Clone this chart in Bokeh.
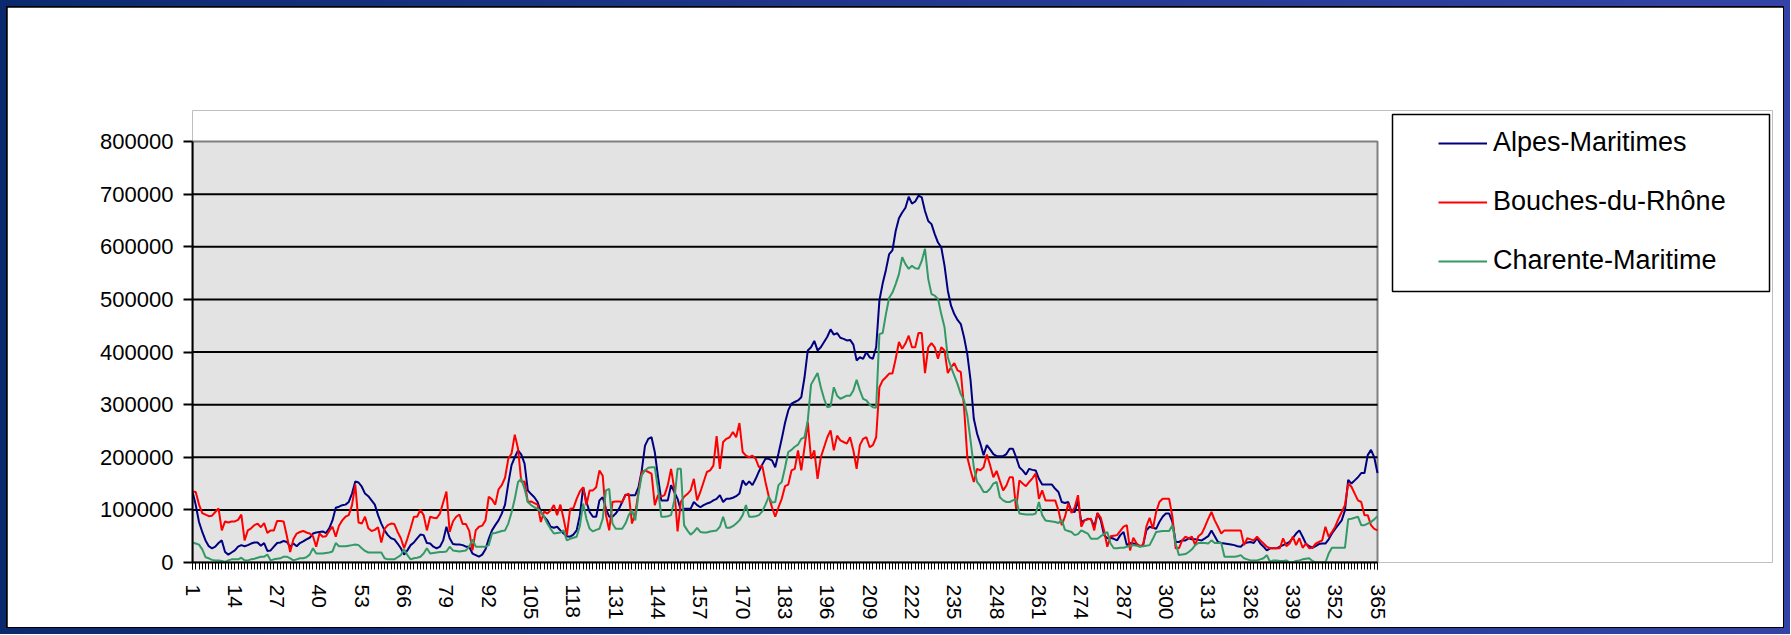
import numpy as np
from bokeh.plotting import figure
from bokeh.models import (Range1d, FixedTicker, NumeralTickFormatter, Legend, LegendItem,
                          ColumnDataSource)
from bokeh.layouts import column
from bokeh.embed import file_html
from bokeh.resources import INLINE

# ---------------- data (values in thousands, days 1..365) ----------------
days = list(range(1, 366))
x_tick_labels = [1, 14, 27, 40, 53, 66, 79, 92, 105, 118, 131, 144, 157, 170, 183, 196,
                 209, 222, 235, 248, 261, 274, 287, 300, 313, 326, 339, 352, 365]
y_ticks = [0, 100000, 200000, 300000, 400000, 500000, 600000, 700000, 800000]
series_names = ["Alpes-Maritimes", "Bouches-du-Rhône", "Charente-Maritime"]
series_colors = ["#000080", "#FF0000", "#339966"]

alpes_maritimes_k = [
    135, 109, 77, 58, 42, 31, 27, 30, 37, 42,
    20, 15, 19, 23, 30, 33, 31, 33, 36, 38,
    38, 32, 37, 22, 23, 30, 37, 38, 41, 39,
    30, 36, 31, 37, 40, 44, 47, 55, 57, 58,
    59, 56, 65, 80, 104, 106, 109, 110, 115, 131,
    154, 152, 144, 131, 126, 118, 110, 90, 74, 61,
    52, 46, 44, 36, 27, 15, 23, 33, 38, 46,
    53, 52, 37, 36, 30, 27, 30, 42, 68, 46,
    35, 34, 34, 33, 30, 30, 17, 14, 11, 15,
    25, 45, 61, 71, 80, 93, 110, 150, 185, 200,
    213, 205, 188, 137, 130, 124, 115, 96, 87, 80,
    68, 66, 68, 61, 55, 50, 49, 53, 61, 90,
    143, 115, 96, 87, 87, 118, 124, 102, 87, 87,
    93, 102, 115, 129, 128, 128, 128, 143, 175, 222,
    235, 238, 210, 162, 118, 118, 118, 147, 134, 121,
    99, 102, 102, 102, 115, 109, 105, 109, 112, 114,
    118, 121, 128, 115, 121, 121, 123, 126, 131, 156,
    147, 154, 147, 159, 173, 186, 197, 197, 194, 181,
    207, 235, 265, 289, 302, 305, 308, 314, 352, 403,
    409, 421, 403, 409, 419, 429, 443, 433, 436, 427,
    425, 422, 423, 414, 384, 390, 387, 400, 390, 387,
    409, 498, 530, 556, 586, 593, 630, 654, 665, 674,
    695, 682, 686, 697, 694, 668, 649, 643, 624, 608,
    599, 564, 517, 488, 472, 461, 453, 428, 396, 346,
    273, 245, 226, 204, 223, 215, 206, 202, 202, 202,
    206, 216, 216, 200, 181, 175, 167, 178, 176, 175,
    159, 148, 148, 148, 148, 140, 134, 115, 113, 115,
    97, 96, 118, 77, 80, 83, 82, 68, 94, 80,
    52, 46, 47, 45, 42, 52, 58, 33, 37, 36,
    35, 31, 33, 61, 68, 66, 64, 77, 87, 93,
    93, 77, 39, 39, 42, 42, 46, 44, 44, 43,
    42, 46, 50, 61, 50, 39, 37, 36, 35, 34,
    33, 31, 30, 36, 38, 39, 37, 46, 36, 30,
    23, 27, 27, 27, 30, 33, 36, 39, 47, 55,
    61, 49, 36, 31, 28, 31, 35, 36, 36, 44,
    55, 64, 72, 80, 99, 157, 150, 156, 162, 170,
    170, 204, 214, 200, 170,
]

bouches_du_rhone_k = [
    135, 134, 110, 94, 91, 88, 89, 96, 103, 61,
    78, 76, 78, 78, 81, 91, 42, 61, 65, 71,
    74, 67, 75, 56, 61, 61, 79, 79, 78, 50,
    20, 44, 55, 58, 60, 57, 55, 50, 30, 55,
    49, 50, 60, 68, 49, 70, 80, 87, 90, 109,
    148, 76, 74, 87, 65, 60, 62, 67, 38, 64,
    71, 74, 73, 58, 46, 27, 45, 65, 87, 87,
    100, 90, 61, 87, 85, 84, 93, 114, 135, 58,
    78, 87, 91, 73, 73, 60, 23, 61, 68, 70,
    80, 125, 120, 110, 139, 147, 161, 197, 207, 243,
    216, 153, 154, 115, 116, 113, 110, 77, 97, 93,
    99, 109, 90, 110, 83, 52, 102, 103, 121, 135,
    143, 109, 137, 137, 143, 175, 165, 90, 61, 115,
    116, 116, 115, 128, 131, 74, 93, 134, 172, 175,
    172, 169, 109, 128, 125, 128, 147, 178, 140, 59,
    115, 125, 130, 137, 159, 118, 134, 153, 172, 175,
    184, 240, 178, 229, 235, 238, 248, 238, 265, 210,
    203, 200, 203, 197, 181, 184, 153, 126, 105, 87,
    105, 121, 145, 148, 175, 178, 213, 175, 219, 267,
    197, 213, 159, 200, 219, 238, 251, 213, 241, 232,
    229, 226, 238, 213, 178, 223, 235, 238, 219, 223,
    238, 333, 346, 352, 359, 359, 387, 419, 406, 416,
    431, 409, 409, 436, 436, 360, 409, 417, 409, 387,
    409, 403, 360, 371, 379, 365, 362, 295, 200, 175,
    153, 178, 175, 181, 205, 185, 162, 174, 155, 137,
    146, 162, 162, 102, 156, 150, 145, 153, 160, 169,
    121, 137, 118, 118, 118, 118, 99, 71, 87, 112,
    94, 105, 128, 68, 80, 82, 83, 61, 94, 85,
    61, 30, 50, 51, 52, 60, 68, 71, 23, 47,
    36, 31, 33, 68, 85, 64, 96, 115, 121, 121,
    121, 87, 27, 27, 42, 49, 46, 49, 33, 50,
    55, 68, 83, 96, 80, 68, 55, 61, 61, 61,
    61, 61, 61, 33, 46, 44, 42, 49, 42, 36,
    30, 27, 27, 27, 27, 46, 31, 36, 49, 33,
    46, 28, 36, 27, 28, 36, 39, 42, 68, 49,
    58, 68, 83, 96, 109, 150, 144, 131, 118, 115,
    90, 90, 71, 64, 61,
]

charente_maritime_k = [
    38, 36, 34, 25, 10, 8, 5, 4, 4, 3,
    1, 4, 6, 6, 6, 9, 4, 4, 6, 7,
    9, 11, 11, 15, 4, 6, 7, 8, 11, 11,
    8, 4, 6, 8, 8, 10, 15, 27, 17, 17,
    17, 18, 19, 21, 37, 31, 31, 31, 32, 33,
    34, 33, 27, 22, 19, 19, 19, 19, 19, 8,
    6, 6, 6, 10, 14, 25, 14, 6, 8, 9,
    11, 17, 27, 17, 18, 19, 20, 20, 21, 30,
    23, 22, 21, 22, 23, 30, 44, 30, 30, 30,
    30, 33, 55, 56, 58, 60, 61, 74, 95, 121,
    153, 159, 140, 115, 109, 105, 102, 96, 87, 74,
    64, 55, 56, 57, 61, 42, 45, 47, 49, 70,
    112, 83, 64, 59, 62, 64, 83, 137, 140, 74,
    64, 64, 64, 74, 90, 99, 80, 131, 166, 175,
    180, 181, 181, 140, 87, 87, 88, 90, 118, 178,
    178, 71, 61, 53, 58, 66, 58, 57, 57, 59,
    60, 61, 68, 87, 66, 66, 69, 74, 80, 90,
    109, 87, 87, 88, 90, 97, 110, 125, 114, 115,
    147, 153, 180, 210, 214, 220, 224, 235, 238, 270,
    338, 349, 360, 333, 311, 295, 297, 333, 317, 311,
    314, 317, 317, 327, 347, 327, 311, 308, 300, 295,
    294, 434, 436, 472, 503, 513, 529, 548, 580, 567,
    558, 564, 559, 558, 573, 596, 539, 510, 507, 501,
    472, 447, 390, 371, 355, 339, 320, 308, 279, 232,
    181, 153, 145, 134, 134, 140, 150, 153, 124, 118,
    115, 115, 118, 121, 93, 92, 91, 91, 91, 93,
    115, 90, 80, 79, 78, 77, 75, 81, 62, 60,
    58, 52, 54, 61, 58, 55, 45, 45, 45, 50,
    54, 58, 36, 27, 27, 28, 28, 30, 31, 33,
    32, 30, 31, 32, 33, 45, 58, 59, 60, 60,
    60, 71, 36, 14, 15, 16, 20, 25, 33, 37,
    37, 37, 36, 42, 37, 37, 37, 11, 11, 11,
    11, 12, 14, 8, 6, 4, 4, 4, 6, 8,
    14, 1, 4, 4, 3, 3, 4, 0, 0, 3,
    4, 6, 7, 8, 3, 0, 0, 0, 0, 17,
    28, 28, 28, 28, 28, 82, 83, 85, 87, 71,
    71, 74, 77, 82, 88,
]

for arr in (alpes_maritimes_k, bouches_du_rhone_k, charente_maritime_k):
    if len(arr) != len(days):
        raise ValueError("series length %d" % len(arr))

source = ColumnDataSource(dict(
    day=days,
    am=[v * 1000 for v in alpes_maritimes_k],
    bdr=[v * 1000 for v in bouches_du_rhone_k],
    cm=[v * 1000 for v in charente_maritime_k],
))

FONT = "Liberation Sans"

# ---------------- layout geometry (page pixels) ----------------
CANVAS_X0, CANVAS_Y0, CANVAS_W, CANVAS_H = 7, 7, 1776, 620
PLOT_L, PLOT_R, PLOT_T, PLOT_B = 192, 1377, 141, 562      # grey plot area
FRAME_R, FRAME_T = 1772, 110                              # frame extended to hold legend
LEG_L, LEG_R, LEG_T, LEG_B = 1392, 1769, 114, 291         # legend box

x0, x1 = days[0], days[-1]
y0, y1 = y_ticks[0], y_ticks[-1]
dx_per_px = (x1 - x0) / (PLOT_R - PLOT_L)
dy_per_px = (y1 - y0) / (PLOT_B - PLOT_T)
x_end = x0 + (FRAME_R - PLOT_L) * dx_per_px
y_end = y0 + (PLOT_B - FRAME_T) * dy_per_px

p = figure(width=CANVAS_W, height=CANVAS_H, output_backend="svg", toolbar_location=None,
           tools="",
           x_range=Range1d(x0, x_end), y_range=Range1d(y0, y_end),
           min_border_left=PLOT_L - CANVAS_X0,
           min_border_right=CANVAS_X0 + CANVAS_W - FRAME_R,
           min_border_top=FRAME_T - CANVAS_Y0,
           min_border_bottom=CANVAS_Y0 + CANVAS_H - PLOT_B)
p.background_fill_color = "white"
p.border_fill_color = "white"
p.outline_line_color = None

# grey plot area with grey top/right border
p.quad(left=[x0], right=[x1], bottom=[y0], top=[y1], fill_color="#E3E3E3",
       line_color="#808080", line_width=2, level="image")

# horizontal black gridlines spanning only the plot area
grid_levels = y_ticks[1:-1]
p.segment(x0=[x0] * len(grid_levels), x1=[x1] * len(grid_levels),
          y0=grid_levels, y1=grid_levels, line_color="black", line_width=2,
          level="underlay")

r_am = p.line("day", "am", source=source, line_color=series_colors[0], line_width=2)
r_bdr = p.line("day", "bdr", source=source, line_color=series_colors[1], line_width=2)
r_cm = p.line("day", "cm", source=source, line_color=series_colors[2], line_width=2)

# legend box (white, black border) drawn as a glyph under the legend
p.quad(left=[x0 + (LEG_L - PLOT_L) * dx_per_px], right=[x0 + (LEG_R - PLOT_L) * dx_per_px],
       bottom=[y0 + (PLOT_B - LEG_B) * dy_per_px], top=[y0 + (PLOT_B - LEG_T) * dy_per_px],
       fill_color="white", line_color="black", line_width=1.5)

xa = p.xaxis[0]
xa.bounds = (x0, x1)
xa.ticker = FixedTicker(ticks=x_tick_labels, minor_ticks=days)
xa.major_label_orientation = "vertical"
xa.major_label_text_font = FONT
xa.major_label_text_font_size = "21px"
xa.major_label_text_color = "black"
xa.major_label_standoff = 15
xa.axis_line_color = "black"
xa.axis_line_width = 2
xa.major_tick_in = 0
xa.major_tick_out = 7
xa.minor_tick_in = 0
xa.minor_tick_out = 7
xa.major_tick_line_color = "black"
xa.minor_tick_line_color = "black"
xa.major_tick_line_width = 1
xa.minor_tick_line_width = 1

ya = p.yaxis[0]
ya.bounds = (y0, y1)
ya.ticker = FixedTicker(ticks=y_ticks)
ya.formatter = NumeralTickFormatter(format="0")
ya.major_label_text_font = FONT
ya.major_label_text_font_size = "22px"
ya.major_label_text_color = "black"
ya.major_label_standoff = 10
ya.axis_line_color = "black"
ya.axis_line_width = 2
ya.major_tick_in = 0
ya.major_tick_out = 9
ya.major_tick_line_width = 2
ya.major_tick_line_color = "black"
ya.minor_tick_line_color = None

p.xgrid.visible = False
p.ygrid.visible = False

legend = Legend(items=[LegendItem(label=series_names[0], renderers=[r_am]),
                       LegendItem(label=series_names[1], renderers=[r_bdr]),
                       LegendItem(label=series_names[2], renderers=[r_cm])],
                location=(1438 - PLOT_L, PLOT_B - 276), orientation="vertical",
                padding=0, margin=0, border_line_color=None,
                background_fill_alpha=0.0,
                glyph_width=49, glyph_height=30, label_height=30, spacing=28,
                label_standoff=6, label_text_font=FONT,
                label_text_font_size="27px", label_text_color="black")
p.add_layout(legend, "center")

inner = column(p, styles={"background-color": "#000000", "padding": "1px"})
outer = column(inner, styles={"background": "linear-gradient(90deg, #0b2a6e 0%, #23388f 55%, #3344a6 100%)",
                              "padding": "6px"})

open("out.html", "w").write(file_html(outer, INLINE))
